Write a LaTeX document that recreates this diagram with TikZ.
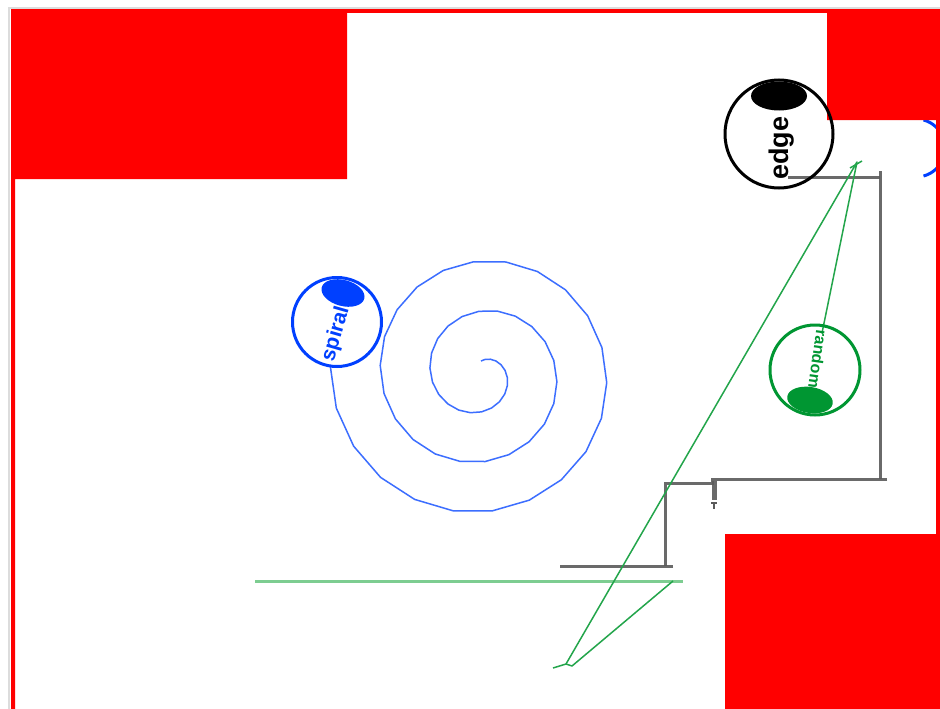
\documentclass[tikz,border=0pt]{standalone}
\usepackage{fontspec}
\setmainfont{Liberation Sans}
\usetikzlibrary{shapes.geometric}
\definecolor{wallred}{RGB}{255,0,0}
\definecolor{bluebot}{RGB}{0,64,255}
\definecolor{bluetrail}{RGB}{60,110,255}
\definecolor{greenbot}{RGB}{0,150,50}
\definecolor{greentrail}{RGB}{35,165,75}
\definecolor{lightgreen}{RGB}{125,205,145}
\definecolor{graytrail}{RGB}{90,90,90}
\definecolor{frame}{RGB}{220,220,220}
\tikzset{
  botbody/.style={circle, draw, line width=3pt, minimum size=#1, inner sep=0pt},
  bothead/.style={ellipse, fill, inner sep=0pt},
  botlabel/.style={font=\bfseries\fontsize{#1}{#1}\selectfont, inner sep=0pt},
  graypath/.style={draw=graytrail, line width=3pt, opacity=0.9},
  greenpath/.style={draw=greentrail, line width=1.5pt, line join=round},
  spiralpath/.style={draw=bluetrail, line width=1.5pt, line join=round}
}
\begin{document}
\begin{tikzpicture}[x=1pt,y=-1pt]
\useasboundingbox (0,0) rectangle (940,709);
\fill[white] (0,0) rectangle (940,709);
% partly hidden blue arc at right wall
\draw[bluebot, line width=3pt] plot[domain=-75:75, samples=40] ({916+29*cos(\x)}, {148+29*sin(\x)});
% walls
\fill[wallred, even odd rule] (11,9) rectangle (940,709)
  (15,179) -- (347,179) -- (347,13) -- (827,13) -- (827,120) -- (936,120)
  -- (936,534) -- (725,534) -- (725,709) -- (15,709) -- cycle;
\draw[frame, line width=1.5pt] (9,709) -- (9,8) -- (940,8);
% light green trail
\draw[draw=lightgreen, line width=3pt] (255,581) -- (683,581);
% gray trail
\draw[graypath] (788,177) -- (880,177);
\draw[graypath] (880,171) -- (880,479);
\draw[graypath] (887,479) -- (712,479) -- (712,483) -- (665,483) -- (665,566);
\draw[graypath] (673,566) -- (560,566);
\draw[graypath, line width=5pt] (714,481) -- (714,500);
\draw[graytrail, line width=2pt] (711,503) -- (717,503) (714,503) -- (714,509);
% green trail
\draw[greenpath] (822,333) -- (857,162) -- (566,664) -- (553,668);
\draw[greenpath] (850,168) -- (862,161);
\draw[greenpath] (566,664) -- (572,666) -- (673,581);
% spiral trail
\draw[spiralpath] plot[domain=0:993, samples=62] ({481+(13+\x/7.2)*sin(\x)}, {374-(13+\x/7.2)*cos(\x)});
% edge robot
\node[botbody=108pt, draw=black] (edgebot) at (779,134) {};
\node[bothead, fill=black, minimum width=56pt, minimum height=29pt] (edgehead) at (779,96) {};
\node[botlabel=27, rotate=90, text=black] (edgelabel) at (782,148) {edge};
% spiral robot
\node[botbody=89pt, draw=bluebot] (spiralbot) at (337,322) {};
\node[bothead, fill=bluebot, minimum width=44pt, minimum height=26pt, rotate=-15] (spiralhead) at (343,293) {};
\node[botlabel=21, rotate=74, text=bluebot] (spirallabel) at (336,334) {spiral};
% random robot
\node[botbody=90pt, draw=greenbot] (randombot) at (815,370) {};
\node[bothead, fill=greenbot, minimum width=46pt, minimum height=26pt, rotate=-9] (randomhead) at (810,400) {};
\node[botlabel=16, rotate=-98, text=greenbot] (randomlabel) at (818,359) {random};
\end{tikzpicture}
\end{document}
